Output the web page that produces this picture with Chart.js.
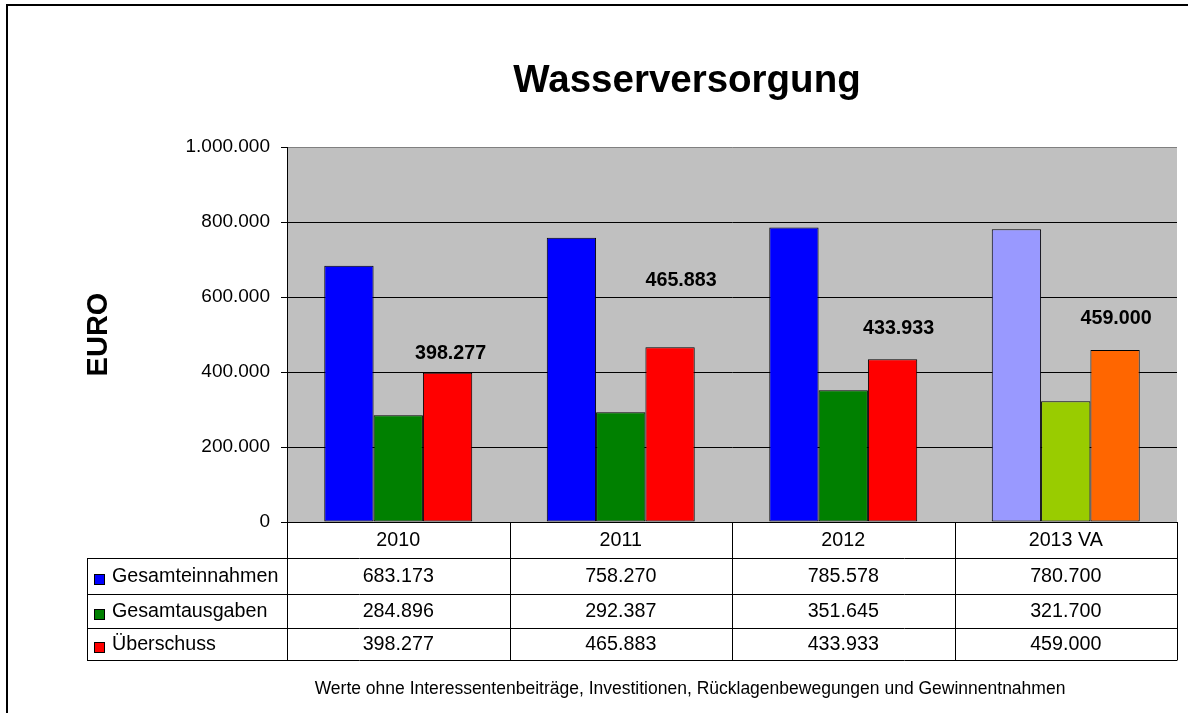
<!DOCTYPE html>
<html lang="de">
<head>
<meta charset="utf-8">
<title>Wasserversorgung</title>
<script src="https://cdn.jsdelivr.net/npm/chart.js@4.4.1/dist/chart.umd.min.js"></script>
<style>
  html, body { margin: 0; padding: 0; background: #fff; }
  #wrap { width: 1188px; height: 713px; }
</style>
</head>
<body>
<div id="wrap"><canvas id="chart" width="1188" height="713"></canvas></div>
<script>
// --- data ---
const years = ['2010', '2011', '2012', '2013 VA'];
const seriesNames = ['Gesamteinnahmen', 'Gesamtausgaben', 'Überschuss'];
const einnahmen = [683173, 758270, 785578, 780700];
const ausgaben = [284896, 292387, 351645, 321700];
const ueberschuss = [398277, 465883, 433933, 459000];
const yTicks = [0, 200000, 400000, 600000, 800000, 1000000];

const FONT = '"Liberation Sans", Arial, sans-serif';

// colours: normal years, 2013 (Voranschlag) lighter
const blue = ['#0000FF', '#0000FF', '#0000FF', '#9999FF'];
const green = ['#008000', '#008000', '#008000', '#99CC00'];
const red = ['#FF0000', '#FF0000', '#FF0000', '#FF6600'];

function fmt(v) {
  return String(v).replace(/\B(?=(\d{3})+(?!\d))/g, '.');
}

// plot background, outer frame, title, footnote
const framePlugin = {
  id: 'frame',
  beforeDraw(chart) {
    const { ctx, chartArea: a } = chart;
    ctx.save();
    ctx.fillStyle = '#C0C0C0';
    ctx.fillRect(a.left, a.top, a.right - a.left, a.bottom - a.top);
    ctx.restore();
  },
  afterDraw(chart) {
    const ctx = chart.ctx;
    ctx.save();
    // outer chart border
    ctx.strokeStyle = '#000';
    ctx.lineWidth = 2;
    ctx.beginPath();
    ctx.moveTo(7, 720);
    ctx.lineTo(7, 5);
    ctx.lineTo(1200, 5);
    ctx.stroke();

    ctx.fillStyle = '#000';
    ctx.textAlign = 'center';
    ctx.textBaseline = 'middle';
    ctx.font = 'bold 38.5px ' + FONT;
    ctx.fillText('Wasserversorgung', 687, 81);

    ctx.font = '17.5px ' + FONT;
    ctx.fillText('Werte ohne Interessentenbeiträge, Investitionen, Rücklagenbewegungen und Gewinnentnahmen', 690, 689);
    ctx.restore();
  }
};

// data table under the x axis
const tablePlugin = {
  id: 'dataTable',
  afterDraw(chart) {
    const { ctx } = chart;
    const x = chart.scales.x;
    const left = x.left, right = x.right;
    const colW = (right - left) / years.length;
    const tableLeft = 87;
    const rows = [522, 558, 594, 628, 660];
    const rowData = [einnahmen, ausgaben, ueberschuss];
    const keyCol = [blue[0], green[0], red[0]];

    ctx.save();
    ctx.strokeStyle = '#000';
    ctx.lineWidth = 1;
    ctx.beginPath();
    // horizontal lines
    for (let r = 1; r < rows.length; r++) {
      ctx.moveTo(tableLeft, rows[r] + 0.5);
      ctx.lineTo(right, rows[r] + 0.5);
    }
    // vertical lines
    for (let c = 0; c <= years.length; c++) {
      const cx = Math.round(left + c * colW) + 0.5;
      ctx.moveTo(cx, rows[0]);
      ctx.lineTo(cx, rows[rows.length - 1] + 0.5);
    }
    ctx.moveTo(tableLeft + 0.5, rows[1]);
    ctx.lineTo(tableLeft + 0.5, rows[rows.length - 1] + 0.5);
    ctx.stroke();

    ctx.fillStyle = '#000';
    ctx.font = '19.7px ' + FONT;
    ctx.textBaseline = 'middle';
    ctx.textAlign = 'center';
    years.forEach((y, c) => {
      ctx.fillText(y, left + (c + 0.5) * colW, (rows[0] + rows[1]) / 2 + 1);
    });
    rowData.forEach((arr, r) => {
      const cy = (rows[r + 1] + rows[r + 2]) / 2 + 1;
      arr.forEach((v, c) => {
        ctx.fillText(fmt(v), left + (c + 0.5) * colW, cy);
      });
    });
    // row headers with legend keys
    ctx.textAlign = 'left';
    seriesNames.forEach((name, r) => {
      const cy = (rows[r + 1] + rows[r + 2]) / 2 + 1;
      ctx.fillStyle = keyCol[r];
      ctx.fillRect(94, cy - 3, 11, 11);
      ctx.strokeRect(94.5, cy - 2.5, 10, 10);
      ctx.fillStyle = '#000';
      ctx.fillText(name, 112, cy);
    });
    ctx.restore();
  }
};

// value labels above the Überschuss bars
const labelPlugin = {
  id: 'barLabels',
  afterDatasetsDraw(chart, args, opts) {
    const { ctx } = chart;
    const meta = chart.getDatasetMeta(2);
    ctx.save();
    ctx.fillStyle = '#000';
    ctx.font = 'bold 19.7px ' + FONT;
    ctx.textAlign = 'center';
    ctx.textBaseline = 'middle';
    meta.data.forEach((bar, i) => {
      const s = opts.shift[i];
      ctx.fillText(fmt(ueberschuss[i]), bar.x + s[0], bar.y + s[1]);
    });
    ctx.restore();
  }
};

new Chart(document.getElementById('chart'), {
  type: 'bar',
  data: {
    labels: years,
    datasets: [
      { label: seriesNames[0], data: einnahmen, backgroundColor: blue },
      { label: seriesNames[1], data: ausgaben, backgroundColor: green },
      { label: seriesNames[2], data: ueberschuss, backgroundColor: red }
    ].map(d => Object.assign(d, {
      borderColor: '#000',
      borderWidth: 1,
      borderSkipped: false,
      categoryPercentage: 0.665,
      barPercentage: 1.0
    }))
  },
  options: {
    responsive: false,
    animation: false,
    events: [],
    layout: { padding: { left: 0, top: 147, right: 11, bottom: 0 } },
    plugins: {
      legend: { display: false },
      title: { display: false },
      tooltip: { enabled: false },
      barLabels: { shift: [[3, -19], [11, -67], [6, -31], [1, -31]] }
    },
    scales: {
      x: {
        ticks: { display: false },
        grid: { display: false },
        border: { display: true, color: '#000', width: 1 },
        afterFit(scale) { scale.height = 191; }
      },
      y: {
        min: 0,
        max: 1000000,
        afterBuildTicks(scale) { scale.ticks = yTicks.map(v => ({ value: v })); },
        ticks: {
          color: '#000',
          padding: 11,
          font: { family: FONT, size: 19 },
          callback: v => fmt(v)
        },
        grid: {
          color: ctx => ctx.tick && ctx.tick.value === 1000000 ? '#808080' : '#000',
          tickColor: '#000',
          tickLength: 6,
          lineWidth: 1
        },
        border: { display: true, color: '#000', width: 1 },
        title: {
          display: true,
          text: 'EURO',
          color: '#000',
          font: { family: FONT, size: 29, weight: 'bold' },
          padding: { top: 82, bottom: 0 }
        },
        afterFit(scale) { scale.width = 287; }
      }
    }
  },
  plugins: [framePlugin, tablePlugin, labelPlugin]
});
</script>
</body>
</html>
